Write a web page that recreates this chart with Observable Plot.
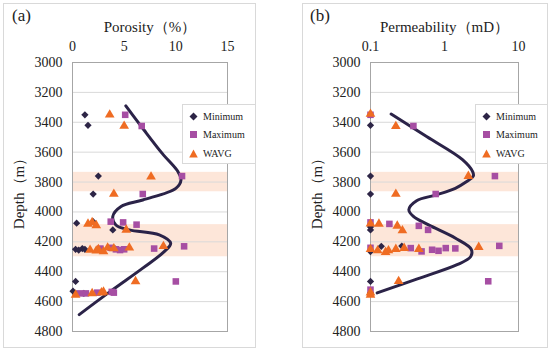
<!DOCTYPE html>
<html><head><meta charset="utf-8">
<script src="https://cdn.jsdelivr.net/npm/d3@7"></script>
<script src="https://cdn.jsdelivr.net/npm/@observablehq/plot@0.6"></script>
<style>
body{margin:0;background:#fff;}
#wrap{position:relative;width:550px;height:350px;font-family:'Liberation Serif','DejaVu Serif',serif;color:#222;}
#wrap svg text{font-family:'Liberation Serif','DejaVu Serif',serif;}
.frame{position:absolute;border:1px solid #d9d9d9;box-sizing:border-box;}
.chart{position:absolute;top:0;}
.tag{position:absolute;font-size:17px;color:#222;}
.legend{position:absolute;background:#fff;border:1px solid #d9d9d9;box-sizing:border-box;font-size:10px;z-index:5;}
.legend .row{position:absolute;left:0;height:12px;display:flex;align-items:center;}
.legend svg{margin-left:6px;margin-right:5px;}
</style></head>
<body><div id="wrap"></div>
<script>
// ---------- data ----------
const depthTicks = [3000,3200,3400,3600,3800,4000,4200,4400,4600,4800];
const bandTop = [3735, 4085];
const bandBottom = [3865, 4300];

// Panel (a) porosity (%)
const minDepthA = [3350,3420,3760,3880,4075,4065,4120,4250,4255,4245,4250,4245,4465,4530,4545,4545];
const minPorA   = [1.2, 1.5, 2.5, 2.0, 0.4, 2.0, 3.9, 0.3, 0.6, 0.95,1.2, 4.1, 0.3, 0.05,0.3, 1.1];
const maxDepthA = [3350,3425,3760,3880,4065,4070,4085,4245,4240,4250,4255,4250,4245,4230,4465,4545,4545,4540,4535,4540];
const maxPorA   = [5.1, 6.7, 10.6,6.8, 3.7, 4.9, 6.2, 2.7, 3.7, 4.2, 4.6, 5.0, 7.9, 10.8,10.0,0.7, 1.3, 2.4, 3.8, 4.0];
const avgDepthA = [3350,3425,3765,3880,4080,4070,4090,4120,4255,4260,4250,4265,4240,4245,4240,4230,4465,4555,4545,4540,4535];
const avgPorA   = [3.6, 5.0, 7.6, 4.0, 1.5, 1.9, 2.3, 5.2, 1.7, 2.3, 2.5, 3.0, 3.4, 4.0, 5.5, 8.8, 6.1, 0.3, 1.9, 2.8, 3.0];
const curveDepthA = [3290,3450,3610,3730,3785,3842,3920,3964,4031,4087,4120,4153,4209,4264,4376,4530,4687];
const curvePorA   = [5.16,6.9, 8.7, 10.2,10.5,10.0,6.8, 4.7, 3.9, 4.2, 5.5, 8.4, 9.5, 8.9, 6.8, 3.7, 0.65];
const porTicks = [0,5,10,15];

// Panel (b) permeability (mD)
const minDepthB = [3350,3420,3760,3880,4100,4120,4230,4228,4265,4465,4540];
const minPermB  = [0.1, 0.1, 0.1, 0.1, 0.1, 0.1, 0.14,0.265,0.1,0.1, 0.1];
const maxDepthB = [3350,3425,3760,3880,4070,4080,4093,4120,4240,4242,4264,4253,4260,4242,4244,4227,4464,4520];
const maxPermB  = [0.1, 0.38,4.8, 0.76,0.1, 0.18,0.45,0.6, 0.1, 0.35,0.49,0.68,0.83,1.04,1.4, 5.5, 3.9, 0.1];
const avgDepthB = [3345,3427,3760,3880,4078,4080,4093,4124,4250,4258,4269,4258,4249,4242,4249,4236,4464,4540,4555];
const avgPermB  = [0.1, 0.22,2.1, 0.22,0.1, 0.13,0.23,0.27,0.1, 0.125,0.16,0.175,0.22,0.285,0.45,2.9,0.24,0.1, 0.1];
const curveDepthB = [3345,3497,3650,3730,3760,3800,3842,3887,3925,3985,4030,4087,4176,4250,4300,4353,4448,4542];
const curvePermB  = [0.19,0.58,1.75,2.4, 2.45,1.95,1.4, 0.76,0.42,0.33,0.38,0.61,1.41,2.3, 2.25,1.48,0.43,0.123];
const permTicks = [0.1,1,10];

const seriesNames = ["Minimum","Maximum","WAVG"];
const colors = {Minimum:"#2d2546", Maximum:"#a64ea3", WAVG:"#ef6c23"};
const lineColor = "#2b2348";

// ---------- helpers ----------
const FONT = "'Liberation Serif','DejaVu Serif',serif";
const zip = (ds, vs) => ds.map((d,i)=>({depth:d, v:vs[i]}));
const bands = bandTop.map((t,i)=>({top:t, bottom:bandBottom[i]}));
const wrap = document.getElementById("wrap");

function panel({left, width, mL, mR, xOpts, xTicks, xFmt, title, mins, maxs, avgs, curve, xdom}) {
  const svg = Plot.plot({
    width, height: 350,
    marginLeft: mL, marginRight: mR, marginTop: 62, marginBottom: 19,
    style: {fontFamily: FONT, fontSize: "14px", color: "#222", background: "transparent"},
    x: {...xOpts, domain: xdom},
    y: {domain: [3000, 4800], reverse: true},
    marks: [
      Plot.rect(bands, {x1: () => xdom[0], x2: () => xdom[1], y1: "top", y2: "bottom", fill: "#fde6d9"}),
      Plot.ruleY(depthTicks, {stroke: "#d9d9d9", strokeWidth: 1}),
      Plot.frame({stroke: "#a6a6a6"}),
      Plot.axisX(xTicks, {anchor: "top", tickSize: 0, tickPadding: 12, tickFormat: xFmt, label: null, fontSize: 14, fill: "#222"}),
      Plot.axisY(depthTicks, {anchor: "left", tickSize: 0, tickPadding: 10, tickFormat: "d", label: null, fontSize: 14, fill: "#222"}),
      Plot.text([title], {frameAnchor: "top", dy: -41, fontSize: 15, fill: "#222"}),
      Plot.text(["Depth（m）"], {frameAnchor: "left", textAnchor: "middle", dx: -53, dy: -7, rotate: -90, fontSize: 15, fill: "#222"}),
      Plot.line(curve, {x: "v", y: "depth", curve: "catmull-rom", stroke: lineColor, strokeWidth: 3}),
      Plot.dot(mins, {x: "v", y: "depth", symbol: "square", rotate: 45, r: 2.9, fill: colors.Minimum}),
      Plot.dot(maxs, {x: "v", y: "depth", symbol: "square", r: 3.7, fill: colors.Maximum}),
      Plot.dot(avgs, {x: "v", y: "depth", symbol: "triangle", r: 3.6, fill: colors.WAVG})
    ]
  });
  svg.classList.add("chart");
  svg.style.left = left + "px";
  wrap.appendChild(svg);
}

panel({left: 0, width: 275, mL: 72, mR: 48, xOpts: {type: "linear"}, xTicks: porTicks, xFmt: d => String(d),
  title: "Porosity（%）", xdom: [0, 15],
  mins: zip(minDepthA, minPorA), maxs: zip(maxDepthA, maxPorA), avgs: zip(avgDepthA, avgPorA), curve: zip(curveDepthA, curvePorA)});
panel({left: 275, width: 275, mL: 95, mR: 32, xOpts: {type: "log"}, xTicks: permTicks, xFmt: d => String(d),
  title: "Permeability（mD）", xdom: [0.1, 10],
  mins: zip(minDepthB, minPermB), maxs: zip(maxDepthB, maxPermB), avgs: zip(avgDepthB, avgPermB), curve: zip(curveDepthB, curvePermB)});

// frames, tags, legends
function addDiv(cls, css, html) { const d = document.createElement("div"); d.className = cls; Object.assign(d.style, css); if (html) d.innerHTML = html; wrap.appendChild(d); return d; }
addDiv("frame", {left: "3px", top: "3px", width: "253px", height: "345px"});
addDiv("frame", {left: "302px", top: "3px", width: "246px", height: "345px"});
addDiv("tag", {left: "12px", top: "6px"}, "(a)");
addDiv("tag", {left: "310px", top: "6px"}, "(b)");

const sym = {
  Minimum: `<svg width="9" height="9"><polygon points="4.5,0.5 8.5,4.5 4.5,8.5 0.5,4.5" fill="${colors.Minimum}"/></svg>`,
  Maximum: `<svg width="9" height="9"><rect x="1" y="1" width="7" height="7" fill="${colors.Maximum}"/></svg>`,
  WAVG: `<svg width="9" height="9"><polygon points="4.5,0.5 8.8,8.5 0.2,8.5" fill="${colors.WAVG}"/></svg>`
};
for (const L of [{left: 182, width: 74}, {left: 475, width: 73}]) {
  const lg = addDiv("legend", {left: L.left + "px", top: "104px", width: L.width + "px", height: "60px"});
  seriesNames.forEach((n, i) => {
    const r = document.createElement("div");
    r.className = "row";
    r.style.top = (5 + i * 18.5) + "px";
    r.innerHTML = sym[n] + `<span>${n}</span>`;
    lg.appendChild(r);
  });
}
</script></body></html>
